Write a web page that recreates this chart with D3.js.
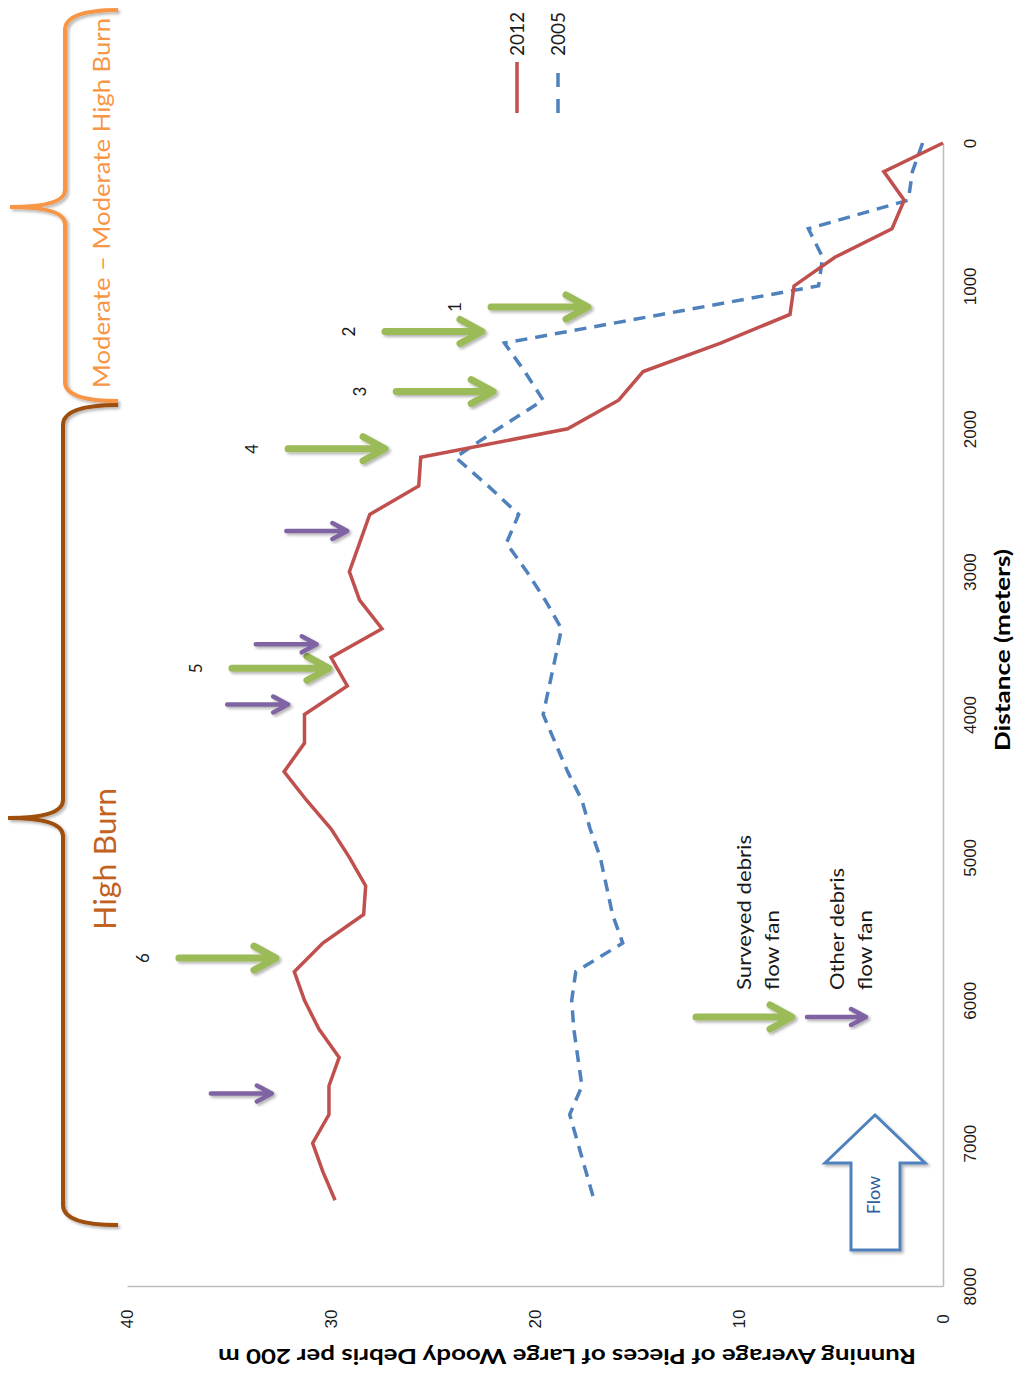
<!DOCTYPE html>
<html>
<head>
<meta charset="utf-8">
<script src="https://cdn.jsdelivr.net/npm/d3@7"></script>
<style>
  html, body { margin: 0; padding: 0; background: #fff; }
  svg { display: block; font-family: Lato, "Open Sans", sans-serif; }
</style>
</head>
<body>
<svg id="chart" width="1021" height="1374"></svg>
<script>
// Distance downstream (m) of each running-average sample
const distances = [0, 200, 400, 600, 800, 1000, 1200, 1400, 1600, 1800,
  2000, 2200, 2400, 2600, 2800, 3000, 3200, 3400, 3600, 3800,
  4000, 4200, 4400, 4600, 4800, 5000, 5200, 5400, 5600, 5800,
  6000, 6200, 6400, 6600, 6800, 7000, 7200, 7400];

// Running average of large woody debris pieces per 200 m
const lwd2012 = [0.0, 2.9, 1.9, 2.5, 5.3, 7.3, 7.5, 10.9, 14.7, 15.9,
  18.4, 25.6, 25.7, 28.1, 28.6, 29.1, 28.6, 27.5, 30.0, 29.2,
  31.3, 31.3, 32.3, 31.2, 30.0, 29.1, 28.3, 28.4, 30.4, 31.8,
  31.3, 30.6, 29.6, 30.1, 30.1, 30.9, 30.4, 29.8];
const lwd2005 = [1.0, 1.5, 1.7, 6.6, 5.9, 6.1, 13.8, 21.5, 20.5, 19.6,
  21.8, 23.9, 22.3, 20.8, 21.4, 20.4, 19.5, 18.7, 19.0, 19.3,
  19.6, 19.0, 18.4, 17.7, 17.3, 16.8, 16.5, 16.2, 15.7, 18.0,
  18.2, 18.1, 17.9, 17.7, 18.3, 17.9, 17.5, 17.1];

const seriesNames = ["2012", "2005"];
const valueTicks = [0, 10, 20, 30, 40];
const distanceTicks = [0, 1000, 2000, 3000, 4000, 5000, 6000, 7000, 8000];

// Debris flow fans: distance (m) and the value the arrow points at
const surveyedFanIds = ["1", "2", "3", "4", "5", "6"];
const surveyedFanDist = [1148, 1319, 1740, 2140, 3677, 5705];
const surveyedFanTip = [17.4, 22.6, 22.05, 27.35, 30.1, 32.7];
const otherFanDist = [2716, 3509, 3930, 6653];
const otherFanTip = [29.2, 30.7, 32.1, 32.9];

const burnZones = ["Moderate \u2013 Moderate High Burn", "High Burn"];

const RED = "#c0504d", BLUE = "#4f81bd", GREEN = "#9bbb59", PURPLE = "#8064a2";

const svg = d3.select("#chart");

// Chart is laid out sideways: distance runs down the page, value runs right-to-left
const x = d3.scaleLinear().domain([0, 40]).range([943, 127]);
const y = d3.scaleLinear().domain([0, 8000]).range([143, 1286]);

const defs = svg.append("defs");
const shadow = defs.append("filter").attr("id", "shadow")
  .attr("x", "-30%").attr("y", "-30%").attr("width", "160%").attr("height", "160%");
shadow.append("feDropShadow").attr("dx", 2).attr("dy", 2)
  .attr("stdDeviation", 1.6).attr("flood-color", "#000").attr("flood-opacity", 0.3);

// ---- Axes ----
const gx = svg.append("g")
  .attr("transform", `translate(0,${y(8000)})`)
  .call(d3.axisBottom(x).tickValues(valueTicks).tickSize(0).tickFormat(d3.format("d")));
gx.select(".domain").attr("stroke", "#bcbcbc").attr("stroke-width", 1.5);
gx.selectAll(".tick text")
  .attr("x", 0).attr("y", 0).attr("dy", "0.35em")
  .attr("transform", "translate(0,33) rotate(-90)")
  .attr("text-anchor", "middle")
  .attr("fill", "#1a1a1a")
  .style("font-size", "17px");

const gy = svg.append("g")
  .attr("transform", `translate(${x(0)},0)`)
  .call(d3.axisRight(y).tickValues(distanceTicks).tickSize(0).tickFormat(d3.format("d")));
gy.select(".domain").attr("stroke", "#bcbcbc").attr("stroke-width", 1.5);
gy.selectAll(".tick text")
  .attr("x", 0).attr("y", 0).attr("dy", "0.35em")
  .attr("transform", "translate(27,0) rotate(-90)")
  .attr("text-anchor", "middle")
  .attr("fill", "#1a1a1a")
  .style("font-size", "17px");

svg.append("text")
  .attr("transform", "translate(1003,650) rotate(-90)")
  .attr("text-anchor", "middle").attr("dy", "0.35em")
  .style("font-size", "21px").style("font-weight", "bold")
  .attr("textLength", 202).attr("lengthAdjust", "spacingAndGlyphs")
  .text("Distance (meters)");

svg.append("text")
  .attr("transform", "translate(567,1356) rotate(180)")
  .attr("text-anchor", "middle").attr("dy", "0.35em")
  .style("font-size", "21px").style("font-weight", "bold")
  .attr("textLength", 698).attr("lengthAdjust", "spacingAndGlyphs")
  .text("Running Average of Pieces of Large Woody Debris per 200 m");

// ---- Series ----
const line = d3.line().x(d => x(d.v)).y(d => y(d.d));
const s2012 = distances.map((d, i) => ({ d, v: lwd2012[i] }));
const s2005 = distances.map((d, i) => ({ d, v: lwd2005[i] }));

svg.append("path").datum(s2005)
  .attr("d", line).attr("fill", "none")
  .attr("stroke", BLUE).attr("stroke-width", 3.5)
  .attr("stroke-dasharray", "12,8");
svg.append("path").datum(s2012)
  .attr("d", line).attr("fill", "none")
  .attr("stroke", RED).attr("stroke-width", 3.5)
  .attr("stroke-linejoin", "miter");

// ---- Legend ----
const legend = svg.append("g");
legend.append("line").attr("x1", 517).attr("x2", 517).attr("y1", 113).attr("y2", 62)
  .attr("stroke", RED).attr("stroke-width", 3.5);
legend.append("line").attr("x1", 558).attr("x2", 558).attr("y1", 113).attr("y2", 62)
  .attr("stroke", BLUE).attr("stroke-width", 3.5).attr("stroke-dasharray", "14,12");
legend.selectAll("text.series").data(seriesNames).join("text")
  .attr("class", "series")
  .attr("transform", (d, i) => `translate(${i === 0 ? 517 : 558},56) rotate(-90)`)
  .attr("dy", "0.35em").attr("text-anchor", "start")
  .style("font-size", "19px").attr("fill", "#1a1a1a")
  .text(d => d);

// ---- Fan arrows ----
function arrow(g, x0, x1, yy, color, width, headLen, headHalf) {
  g.append("path")
    .attr("d", `M${x0},${yy}H${x1 - 2}M${x1 - headLen},${yy - headHalf}L${x1},${yy}L${x1 - headLen},${yy + headHalf}`)
    .attr("fill", "none").attr("stroke", color).attr("stroke-width", width)
    .attr("stroke-linecap", "round").attr("stroke-linejoin", "round")
    .attr("filter", "url(#shadow)");
}

const fans = svg.append("g");
surveyedFanIds.forEach((id, i) => {
  const tip = x(surveyedFanTip[i]);
  const yy = y(surveyedFanDist[i]);
  arrow(fans, tip - 97, tip, yy, GREEN, 7, 22, 12);
  fans.append("text")
    .attr("transform", `translate(${tip - 97 - 36},${yy}) rotate(-90)`)
    .attr("text-anchor", "middle").attr("dy", "0.35em")
    .style("font-size", "17px").attr("fill", "#1a1a1a")
    .text(id);
});
otherFanDist.forEach((dist, i) => {
  const tip = x(otherFanTip[i]);
  arrow(fans, tip - 61, tip, y(dist), PURPLE, 4.5, 15, 8);
});

// Fan key
arrow(svg, 696, 792, 1017, GREEN, 7, 22, 12);
arrow(svg, 807, 866, 1017, PURPLE, 4.5, 15, 8);
const key = [
  { x: 744, t: "Surveyed debris", len: 155 }, { x: 772, t: "flow fan", len: 80 },
  { x: 837, t: "Other debris", len: 122 }, { x: 865, t: "flow fan", len: 80 }
];
svg.selectAll("text.key").data(key).join("text")
  .attr("class", "key")
  .attr("transform", d => `translate(${d.x},990) rotate(-90)`)
  .attr("dy", "0.35em").attr("text-anchor", "start")
  .style("font-size", "20px").attr("fill", "#1a1a1a")
  .attr("textLength", d => d.len).attr("lengthAdjust", "spacingAndGlyphs")
  .text(d => d.t);

// ---- Flow direction arrow ----
svg.append("path")
  .attr("d", "M875,1115L925,1163H900V1250H851V1163H825Z")
  .attr("fill", "#fff").attr("stroke", BLUE).attr("stroke-width", 3)
  .attr("stroke-linejoin", "miter").attr("filter", "url(#shadow)");
svg.append("text")
  .attr("transform", "translate(874,1195) rotate(-90)")
  .attr("text-anchor", "middle").attr("dy", "0.35em")
  .style("font-size", "18px").attr("fill", "#2f5d9e")
  .text("Flow");

// ---- Burn severity braces ----
svg.append("path")
  .attr("d", "M118,10Q65,10 65,30V190Q65,207 10,207Q65,207 65,224V382Q65,401 118,401")
  .attr("fill", "none").attr("stroke", "#f79646").attr("stroke-width", 4)
  .attr("filter", "url(#shadow)");
svg.append("path")
  .attr("d", "M118,405Q63,405 63,425V800Q63,818 8,818Q63,818 63,836V1205Q63,1225 118,1225")
  .attr("fill", "none").attr("stroke", "#9e4f10").attr("stroke-width", 4)
  .attr("filter", "url(#shadow)");

svg.append("text")
  .attr("transform", "translate(102,203) rotate(-90)")
  .attr("text-anchor", "middle").attr("dy", "0.35em")
  .style("font-size", "24px").attr("fill", "#f79646")
  .attr("textLength", 370).attr("lengthAdjust", "spacingAndGlyphs")
  .text(burnZones[0]);
svg.append("text")
  .attr("transform", "translate(105,859) rotate(-90)")
  .attr("text-anchor", "middle").attr("dy", "0.35em")
  .style("font-size", "31px").attr("fill", "#c3621f")
  .attr("textLength", 142).attr("lengthAdjust", "spacingAndGlyphs")
  .text(burnZones[1]);
</script>
</body>
</html>
